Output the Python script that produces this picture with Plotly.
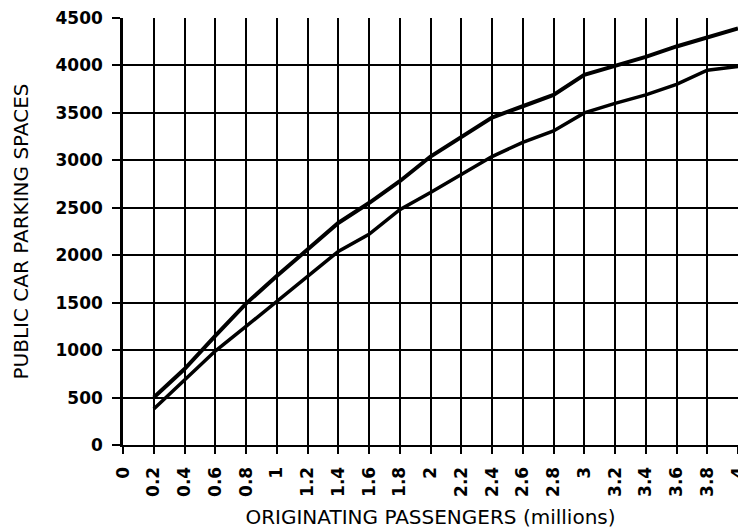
import plotly.graph_objects as go

x_vals = [0.2, 0.4, 0.6, 0.8, 1.0, 1.2, 1.4, 1.6, 1.8, 2.0, 2.2, 2.4, 2.6, 2.8, 3.0, 3.2, 3.4, 3.6, 3.8, 4.0]
upper = [500, 800, 1150, 1490, 1780, 2060, 2340, 2550, 2780, 3040, 3240, 3450, 3570, 3690, 3900, 3990, 4090, 4200, 4300, 4390]
lower = [380, 690, 990, 1250, 1510, 1780, 2040, 2220, 2480, 2660, 2850, 3040, 3190, 3310, 3500, 3600, 3690, 3800, 3950, 3990]

x_ticks = [round(i * 0.2, 1) for i in range(21)]
x_tick_labels = ["0", "0.2", "0.4", "0.6", "0.8", "1", "1.2", "1.4", "1.6", "1.8", "2",
                 "2.2", "2.4", "2.6", "2.8", "3", "3.2", "3.4", "3.6", "3.8", "4"]
y_ticks = [0, 500, 1000, 1500, 2000, 2500, 3000, 3500, 4000, 4500]

fig = go.Figure()
fig.add_trace(go.Scatter(x=x_vals, y=upper, mode="lines",
                         line=dict(color="black", width=4), showlegend=False))
fig.add_trace(go.Scatter(x=x_vals, y=lower, mode="lines",
                         line=dict(color="black", width=3.5), showlegend=False))

tick_font = dict(family="DejaVu Sans", size=17, color="black", weight="bold")
title_font = dict(family="DejaVu Sans", size=20, color="black")

fig.update_layout(
    width=738, height=531,
    margin=dict(l=123, r=0, t=18, b=86),
    plot_bgcolor="white", paper_bgcolor="white",
    xaxis=dict(
        range=[0, 4], tickmode="array", tickvals=x_ticks, ticktext=x_tick_labels,
        tickangle=-90, tickfont=tick_font, automargin=False,
        ticklabeloverflow="allow", ticklabelstandoff=6,
        showgrid=True, gridcolor="black", gridwidth=1.5,
        showline=True, linecolor="black", linewidth=2,
        ticks="outside", ticklen=7, tickwidth=2, tickcolor="black",
        zeroline=False,
        title=dict(text="ORIGINATING PASSENGERS (millions)", font=title_font, standoff=14),
    ),
    yaxis=dict(
        range=[0, 4500], tickmode="array", tickvals=y_ticks, tickfont=tick_font,
        automargin=False, ticklabelstandoff=6,
        showgrid=True, gridcolor="black", gridwidth=1.5,
        showline=True, linecolor="black", linewidth=2.5,
        ticks="outside", ticklen=8, tickwidth=2, tickcolor="black",
        zeroline=False,
        title=dict(text="PUBLIC CAR PARKING SPACES", font=title_font, standoff=22),
    ),
)

fig.write_html(
    "out.html",
    config={"displayModeBar": False},
    post_script="document.body.style.margin='0';document.body.style.overflow='hidden';",
)
